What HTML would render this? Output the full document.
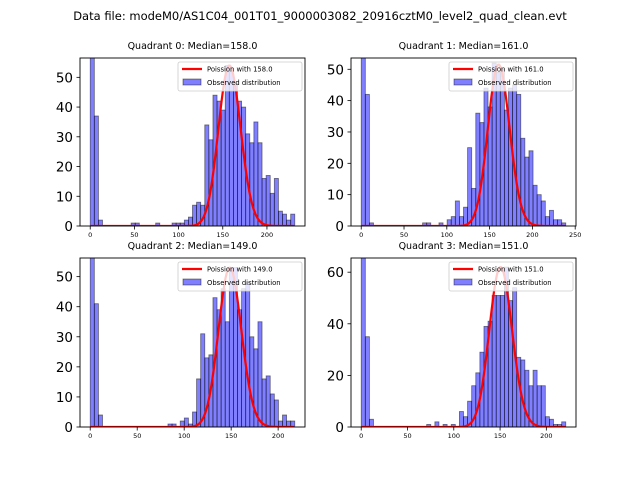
<!DOCTYPE html>
<html><head><meta charset="utf-8"><style>
body{margin:0;background:#fff;}
svg{display:block;font-family:"DejaVu Sans","Liberation Sans",sans-serif;}
</style></head><body>
<svg id="fig" width="640" height="480" viewBox="0 0 640 480">
<rect width="640" height="480" fill="#fff"/>
<text x="320" y="20" font-size="11.5" text-anchor="middle">Data file: modeM0/AS1C04_001T01_9000003082_20916cztM0_level2_quad_clean.evt</text>
</svg>
<script>
// ---- data ----
const quadNames = ["Quadrant 0", "Quadrant 1", "Quadrant 2", "Quadrant 3"];
const medians = [158.0, 161.0, 149.0, 151.0];
const dataMax = [231.5, 239, 217.7, 221];
const yMaxes = [56.5, 53.6, 56.2, 65.5];
const poissonScale = [1701, 1638, 1622, 1910];
const q0Counts = [60,37,2,0,0,0,0,0,0,0,1,1,0,0,0,0,1,0,0,0,1,1,1,2,3,7,8,7,34,29,44,42,39,54,52,48,42,40,31,28,35,28,16,17,11,16,5,4,2,4];
const q1Counts = [57,42,1,0,0,0,0,0,0,0,0,0,0,0,0,1,1,0,0,1,0,2,3,8,3,6,25,12,36,33,44,38,52,49,50,37,44,45,42,28,22,24,13,10,8,3,5,2,2,1];
const q2Counts = [57,41,4,0,0,0,0,0,0,0,0,0,0,0,0,0,0,0,0,1,1,0,2,3,1,5,16,31,23,24,43,39,46,35,53,53,39,46,48,30,26,35,16,17,11,9,2,4,2,2];
const q3Counts = [66,35,3,0,0,0,0,0,0,0,0,0,0,0,0,0,1,0,2,0,1,0,1,0,6,4,10,16,21,29,39,41,51,51,51,62,49,54,27,26,22,16,22,16,16,4,3,1,1,2];
const allCounts = [q0Counts, q1Counts, q2Counts, q3Counts];
const xTicks = [[0,50,100,150,200],[0,50,100,150,200,250],[0,50,100,150,200],[0,50,100,150,200]];
const yTicks = [[0,10,20,30,40,50],[0,10,20,30,40,50],[0,10,20,30,40,50],[0,20,40,60]];

const NS = "http://www.w3.org/2000/svg";
const svg = document.getElementById("fig");
const boxes = [[80,58,305,226],[351,58,576,226],[80,258,305,427],[351,258,576,427]];
function mk(tag, attrs, parent){const e=document.createElementNS(NS,tag);for(const k in attrs)e.setAttribute(k,attrs[k]);(parent||svg).appendChild(e);return e;}
function lnPois(k,mu){let lf=0;for(let i=2;i<=k;i++)lf+=Math.log(i);return k*Math.log(mu)-mu-lf;}

for(let q=0;q<4;q++){
  const [L,T,R,B]=boxes[q];
  const counts=allCounts[q];
  const n=counts.length, bw=dataMax[q]/n;
  const m=dataMax[q]*0.05, x0=-m, x1=dataMax[q]+m;
  const X=v=>L+(v-x0)/(x1-x0)*(R-L);
  const Y=v=>B-v/yMaxes[q]*(B-T);
  const g=mk("g",{});
  
  
  const cid="clip"+q;
  const cp=mk("clipPath",{id:cid},g);mk("rect",{x:L,y:T,width:R-L,height:B-T},cp);
  const bars=mk("g",{"clip-path":"url(#"+cid+")"},g);
  for(let i=0;i<n;i++){
    if(counts[i]<=0)continue;
    const r=mk("rect",{x:X(i*bw),y:Y(counts[i]),width:X((i+1)*bw)-X(i*bw),height:B-Y(counts[i]),fill:"rgba(0,0,255,0.5)",stroke:"rgba(0,0,0,0.5)","stroke-width":0.8},bars);
    
    
  }
  let d="";
  for(let k=0;k<=Math.floor(dataMax[q]);k++){
    const v=poissonScale[q]*Math.exp(lnPois(k,medians[q]));
    d+=(k?"L":"M")+X(k).toFixed(2)+","+Y(v).toFixed(2);
  }
  const p=mk("path",{d:d,fill:"none",stroke:"red","stroke-width":2.2,"clip-path":"url(#"+cid+")"},g);
  
  
  const fr=mk("rect",{x:L,y:T,width:R-L,height:B-T,fill:"none",stroke:"#000","stroke-width":0.9},g);
  
  
  xTicks[q].forEach(t=>{
    mk("line",{x1:X(t),x2:X(t),y1:B,y2:B+3.5,stroke:"#000","stroke-width":0.8},g);
    const tx=mk("text",{x:X(t),y:B+11,"font-size":6.5,"text-anchor":"middle"},g);tx.textContent=t;
    
    
  });
  yTicks[q].forEach(t=>{
    mk("line",{x1:L-3.5,x2:L,y1:Y(t),y2:Y(t),stroke:"#000","stroke-width":0.8},g);
    const tx=mk("text",{x:L-7,y:Y(t)+5,"font-size":13.5,"text-anchor":"end"},g);tx.textContent=t;
    
    
  });
  const ti=mk("text",{x:(L+R)/2,y:T-9,"font-size":9.5,"text-anchor":"middle"},g);
  ti.textContent=quadNames[q]+": Median="+medians[q].toFixed(1);
  
  
  const lg=mk("g",{},g);
  
  
  mk("rect",{x:R-127,y:T+4,width:124,height:29,rx:2,fill:"rgba(255,255,255,0.8)",stroke:"#ccc","stroke-width":0.8},lg);
  mk("line",{x1:R-123,x2:R-103,y1:T+11,y2:T+11,stroke:"red","stroke-width":2.2},lg);
  mk("rect",{x:R-122,y:T+21,width:18,height:6,fill:"rgba(0,0,255,0.5)",stroke:"rgba(0,0,0,0.5)","stroke-width":0.8},lg);
  const t1=mk("text",{x:R-98,y:T+13.5,"font-size":6.8},lg);t1.textContent="Poission with "+medians[q].toFixed(1);
  
  
  const t2=mk("text",{x:R-98,y:T+27,"font-size":6.8},lg);t2.textContent="Observed distribution";
  
  
}
</script>
</body></html>
